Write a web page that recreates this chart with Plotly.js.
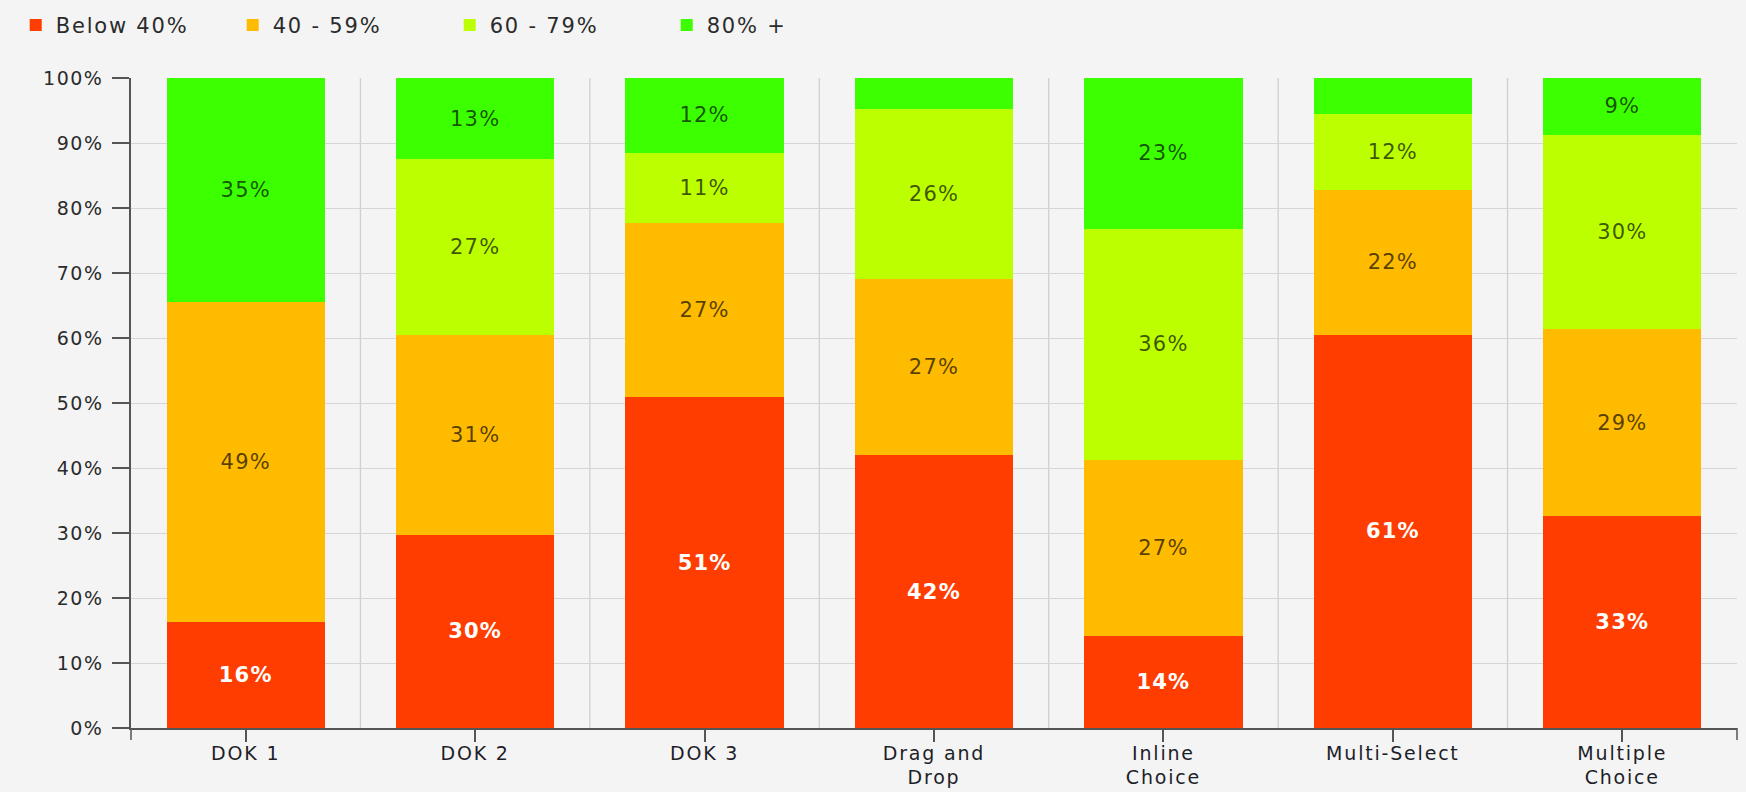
<!DOCTYPE html>
<html>
<head>
<meta charset="utf-8">
<script src="https://cdn.plot.ly/plotly-3.0.1.min.js"></script>
<style>
  html, body { margin: 0; padding: 0; background: #f4f4f4; }
  #chart { width: 1746px; height: 792px; }
  #chart text { letter-spacing: 1.2px; }
  #chart .xtick text { letter-spacing: 1.8px; }
  #chart .ytick text { letter-spacing: 1.5px; }
  #chart .legendtext { letter-spacing: 1.8px; }
</style>
</head>
<body>
<div id="chart"></div>
<script>
// ---- data ----
const categories = ['DOK 1', 'DOK 2', 'DOK 3', 'Drag and<br>Drop', 'Inline<br>Choice', 'Multi-Select', 'Multiple<br>Choice'];
const seriesNames = ['Below 40%', '40 - 59%', '60 - 79%', '80% +'];
const below40  = [16.3, 29.7, 50.9, 42.0, 14.2, 60.5, 32.6];
const r40to59  = [49.2, 30.7, 26.8, 27.1, 27.1, 22.3, 28.8];
const r60to79  = [0.0, 27.1, 10.8, 26.2, 35.5, 11.6, 29.9];
const r80plus  = [34.5, 12.5, 11.5, 4.7, 23.2, 5.6, 8.7];
const labelsBelow40 = ['16%', '30%', '51%', '42%', '14%', '61%', '33%'];
const labels40to59  = ['49%', '31%', '27%', '27%', '27%', '22%', '29%'];
const labels60to79  = ['', '27%', '11%', '26%', '36%', '12%', '30%'];
const labels80plus  = ['35%', '13%', '12%', '', '23%', '', '9%'];
const yTickVals   = [0, 10, 20, 30, 40, 50, 60, 70, 80, 90, 100];
const yTickLabels = ['0%', '10%', '20%', '30%', '40%', '50%', '60%', '70%', '80%', '90%', '100%'];

// ---- style ----
const colors = ['#ff3d00', '#ffbb00', '#bbff00', '#3cff00'];
const FONT = 'DejaVu Sans, Liberation Sans, Arial, sans-serif';
const darkText = 'rgba(0,0,0,0.68)';

const values = [below40, r40to59, r60to79, r80plus];
const labels = [labelsBelow40, labels40to59, labels60to79, labels80plus];

const traces = values.map((v, i) => ({
  type: 'bar',
  name: seriesNames[i],
  x: categories,
  y: v,
  text: labels[i],
  textposition: 'inside',
  insidetextanchor: 'middle',
  textangle: 0,
  constraintext: 'none',
  textfont: i === 0
    ? { family: FONT, size: 21, color: '#ffffff', weight: 'bold' }
    : { family: FONT, size: 21, color: darkText },
  marker: { color: colors[i], line: { width: 0 } },
  hoverinfo: 'skip'
}));

// vertical separators between categories
const shapes = [];
for (let i = 0; i < categories.length - 1; i++) {
  shapes.push({
    type: 'line', xref: 'x', yref: 'y',
    x0: i + 0.5, x1: i + 0.5, y0: 0, y1: 100,
    line: { color: '#cfcfcf', width: 1.3 }, layer: 'below'
  });
}
// end ticks of the x axis
[0, 1].forEach(px => shapes.push({
  type: 'line', xref: 'paper', yref: 'paper',
  x0: px, x1: px, y0: 0, y1: -0.0185,
  line: { color: '#555555', width: 1.5 }
}));

const layout = {
  width: 1746, height: 792,
  paper_bgcolor: '#f4f4f4',
  plot_bgcolor: '#f4f4f4',
  barmode: 'stack',
  bargap: 0.31,
  margin: { l: 131, r: 9, t: 78, b: 64 },
  font: { family: FONT, color: '#2b2b2b' },
  showlegend: true,
  legend: {
    orientation: 'h',
    xref: 'container', yref: 'container',
    x: 0.009, y: 0.994, xanchor: 'left', yanchor: 'top',
    entrywidth: 172, entrywidthmode: 'pixels',
    traceorder: 'normal',
    font: { family: FONT, size: 21, color: '#2b2b2b' },
    bgcolor: 'rgba(0,0,0,0)'
  },
  xaxis: {
    type: 'category',
    showline: true, linecolor: '#555555', linewidth: 1.5,
    ticks: 'outside', ticklen: 12, tickcolor: '#555555', tickwidth: 1.5,
    ticklabelstandoff: -5,
    showgrid: false,
    tickfont: { family: FONT, size: 19, color: '#1e1e28' },
    range: [-0.5, 6.5],
    fixedrange: true
  },
  yaxis: {
    range: [0, 100],
    tickmode: 'array',
    tickvals: yTickVals,
    ticktext: yTickLabels,
    showline: true, linecolor: '#555555', linewidth: 1.5,
    ticks: 'outside', ticklen: 17, tickcolor: '#555555', tickwidth: 1.5,
    ticklabelstandoff: 5,
    showgrid: true, gridcolor: '#d6d6d6', gridwidth: 1.2,
    zeroline: false,
    tickfont: { family: FONT, size: 19, color: '#2b2b2b' },
    fixedrange: true
  },
  shapes: shapes,
  hovermode: false
};

Plotly.newPlot('chart', traces, layout, { displayModeBar: false, responsive: false });
</script>
</body>
</html>
